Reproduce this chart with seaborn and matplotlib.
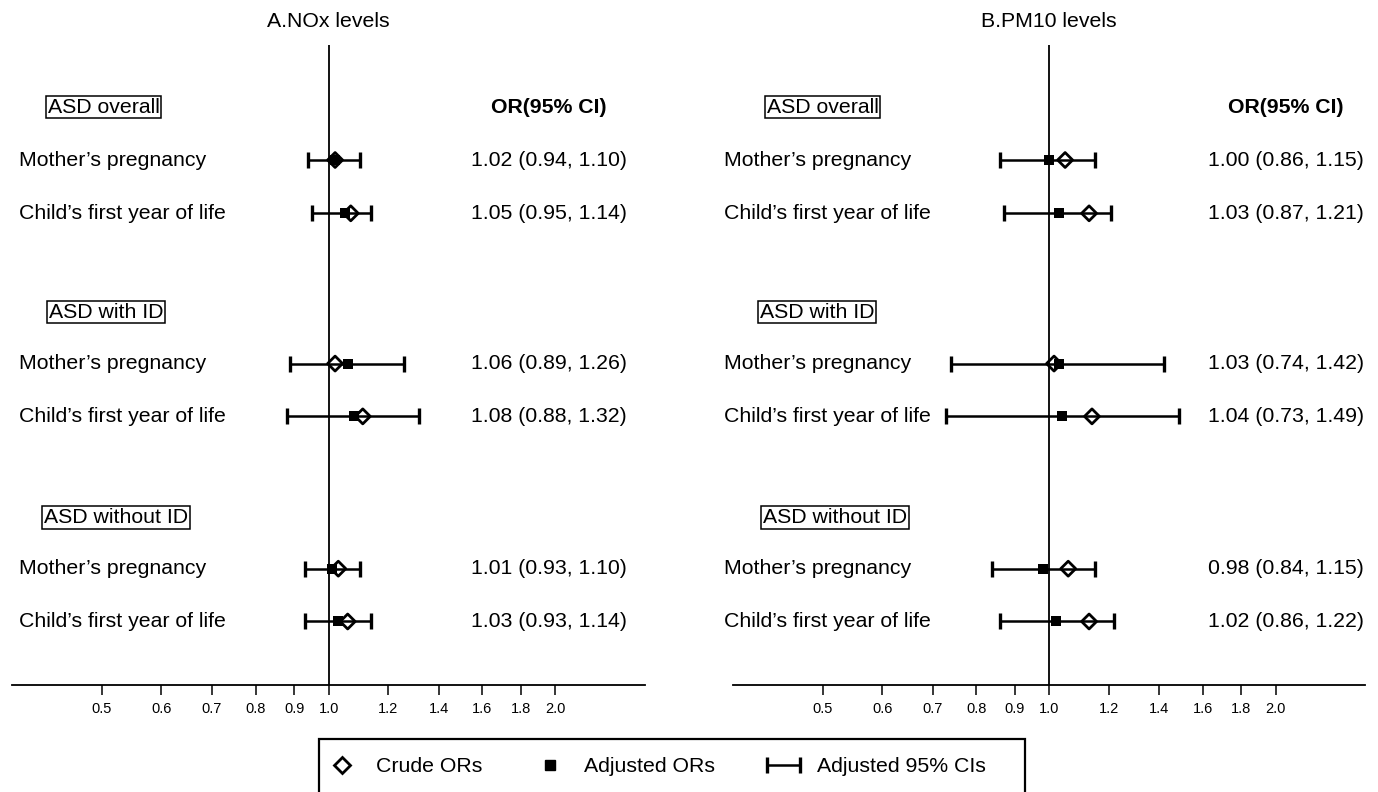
import pandas as pd
import matplotlib.pyplot as plt
import seaborn as sns
from matplotlib.lines import Line2D
from matplotlib.patches import Rectangle
from matplotlib.container import ErrorbarContainer
from matplotlib.legend_handler import HandlerErrorbar

# rows of the forest plot (top to bottom)
groups = ["ASD overall", "ASD with ID", "ASD without ID"]
periods = ["Mother\u2019s pregnancy", "Child\u2019s first year of life"]

# A. NOx levels
nox_adj = [1.02, 1.05, 1.06, 1.08, 1.01, 1.03]
nox_lo = [0.94, 0.95, 0.89, 0.88, 0.93, 0.93]
nox_hi = [1.10, 1.14, 1.26, 1.32, 1.10, 1.14]
nox_crude = [1.02, 1.07, 1.02, 1.11, 1.03, 1.06]

# B. PM10 levels
pm_adj = [1.00, 1.03, 1.03, 1.04, 0.98, 1.02]
pm_lo = [0.86, 0.87, 0.74, 0.73, 0.84, 0.86]
pm_hi = [1.15, 1.21, 1.42, 1.49, 1.15, 1.22]
pm_crude = [1.05, 1.13, 1.015, 1.14, 1.06, 1.13]

tick_vals = [0.5, 0.6, 0.7, 0.8, 0.9, 1.0, 1.2, 1.4, 1.6, 1.8, 2.0]

sns.set_style("white")
plt.rcParams['font.family'] = ['Liberation Sans', 'DejaVu Sans']
plt.rcParams['text.color'] = 'black'
plt.rcParams['xtick.color'] = 'black'

# vertical layout (row units, top to bottom)
row_y = [1.03, 2.07, 5.0, 6.03, 9.0, 10.03]
head_y = [0, 4, 8]


def make_df(adj, lo, hi, crude):
    df = pd.DataFrame({
        'period': periods * 3,
        'adj': adj, 'lo': lo, 'hi': hi, 'crude': crude,
    })
    df['y'] = row_y
    return df


panels = [
    ("A.NOx levels", make_df(nox_adj, nox_lo, nox_hi, nox_crude),
     0.011, [0.145, 0.149, 0.164], 0.848),
    ("B.PM10 levels", make_df(pm_adj, pm_lo, pm_hi, pm_crude),
     -0.014, [0.142, 0.133, 0.161], 0.875),
]

fig = plt.figure(figsize=(13.78, 7.92), dpi=100)
axes = [fig.add_axes([0.0087, 0.135, 0.4594, 0.808]),
        fig.add_axes([0.532, 0.135, 0.4586, 0.808])]

fs = 15.3
for ax, (title, df, lab_x, head_x, or_x) in zip(axes, panels):
    ax.set_xscale('log')
    ax.axvline(1.0, color='black', lw=1.3, zorder=1)
    eb = ax.errorbar(df['adj'], df['y'],
                     xerr=[df['adj'] - df['lo'], df['hi'] - df['adj']],
                     fmt='none', ecolor='black', elinewidth=1.8,
                     capsize=5.5, capthick=2.4, zorder=2)
    sns.scatterplot(data=df, x='adj', y='y', ax=ax, marker='s', s=50,
                    color='black', edgecolor='black', linewidth=0, zorder=3)
    sns.scatterplot(data=df, x='crude', y='y', ax=ax, marker='D', s=58,
                    facecolor='none', edgecolor='black', linewidth=2, zorder=4)

    for yy, txt in zip(df['y'], df['period']):
        ax.text(lab_x, yy, txt, transform=ax.get_yaxis_transform(),
                ha='left', va='center', fontsize=fs, clip_on=False)
    for yy, a, l, h in zip(df['y'], df['adj'], df['lo'], df['hi']):
        ax.text(or_x, yy, f"{a:.2f} ({l:.2f}, {h:.2f})",
                transform=ax.get_yaxis_transform(),
                ha='center', va='center', fontsize=fs)
    for yy, g, hx in zip(head_y, groups, head_x):
        ax.text(hx, yy, g, transform=ax.get_yaxis_transform(),
                ha='center', va='center', fontsize=fs,
                bbox=dict(boxstyle='square,pad=0.08', fc='white',
                          ec='black', lw=1.1))
    ax.text(or_x, 0, "OR(95% CI)", transform=ax.get_yaxis_transform(),
            ha='center', va='center', fontsize=fs, fontweight='bold')

    ax.set_xlim(0.38, 2.63)
    ax.set_ylim(11.27, -1.21)
    ax.set_xticks(tick_vals)
    ax.set_xticklabels([f"{v:.1f}" for v in tick_vals])
    ax.minorticks_off()
    ax.set_yticks([])
    ax.set_xlabel('')
    ax.set_ylabel('')
    ax.tick_params(axis='x', bottom=True, length=7, width=1.1,
                   labelsize=10.5, pad=5, color='black', labelcolor='black')
    for side in ['top', 'left', 'right']:
        ax.spines[side].set_visible(False)
    ax.spines['bottom'].set_linewidth(1.3)
    ax.spines['bottom'].set_color('black')
    ax.set_title(title, fontsize=fs, pad=13, color='black')

handles = [
    Line2D([], [], marker='D', ls='none', mfc='none', mec='black',
           mew=2, markersize=8),
    Line2D([], [], marker='s', ls='none', color='black', markersize=7),
    eb,
]
labels = ["Crude ORs", "Adjusted ORs", "Adjusted 95% CIs"]
leg = fig.legend(handles, labels, loc='center left',
                 bbox_to_anchor=(326 / 1378, 25 / 792), ncol=3, fontsize=fs,
                 frameon=False, borderpad=0, columnspacing=2.45,
                 handlelength=1.5, handletextpad=0.85, borderaxespad=0,
                 handler_map={ErrorbarContainer: HandlerErrorbar(xerr_size=0.78)})

# legend frame runs off the bottom edge of the figure
fig.patches.append(Rectangle((319 / 1378, -0.02), 706 / 1378, 53 / 792 + 0.02,
                             transform=fig.transFigure, fill=False,
                             ec='black', lw=1.6))

fig.savefig('out.png', dpi=100)
